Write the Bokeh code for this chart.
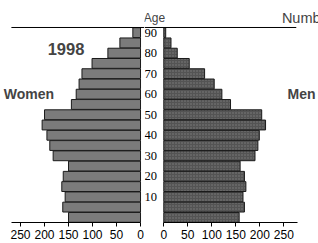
from bokeh.plotting import figure
from bokeh.models import Range1d, FixedTicker, LinearAxis, Label
from bokeh.layouts import row
from bokeh.embed import file_html
from bokeh.resources import INLINE

# ---- data (thousands) ----
ages = [0, 5, 10, 15, 20, 25, 30, 35, 40, 45, 50, 55, 60, 65, 70, 75, 80, 85, 90]
women = [150, 162, 157, 164, 161, 150, 182, 189, 195, 205, 200, 144, 134, 128, 122, 101, 68, 43, 16]
men = [157, 168, 165, 171, 168, 159, 190, 196, 199, 212, 204, 139, 121, 105, 85, 53, 28, 15, 4]
age_ticks = [10, 20, 30, 40, 50, 60, 70, 80, 90]
age_tick_labels = [str(a) for a in age_ticks]
count_ticks = [0, 50, 100, 150, 200, 250]
year_label = "1998"
left_label = "Women"
right_label = "Men"
axis_title = "Age"
value_title = "Number"

FONT = "Liberation Sans, Arial, sans-serif"
Y_RANGE = (-2.5, 105.65)
TOP_RULE_Y = 92.5


def base(fig):
    fig.outline_line_color = None
    fig.background_fill_color = "white"
    fig.border_fill_color = "white"
    fig.grid.visible = False


def count_axis(bounds):
    return LinearAxis(
        ticker=FixedTicker(ticks=count_ticks),
        bounds=bounds,
        axis_line_color="black", axis_line_width=1,
        major_tick_line_color="black", major_tick_out=4, major_tick_in=0,
        minor_tick_line_color=None,
        major_label_standoff=3,
        major_label_text_font=FONT, major_label_text_font_size="12px",
        major_label_text_color="black",
    )


# ---- left panel : women ----
pL = figure(frame_width=144, frame_height=222,
            x_range=Range1d(291.7, -8.3), y_range=Range1d(*Y_RANGE),
            min_border_left=0, min_border_right=0, min_border_top=0, min_border_bottom=21,
            x_axis_location=None, y_axis_location=None,
            output_backend="svg", toolbar_location=None)
base(pL)
pL.hbar(y=ages, left=0, right=women, height=4.8,
        fill_color="#7b7b7b", line_color="#1a1a1a", line_width=1)
pL.add_layout(count_axis((0, 269)), "below")
pL.segment(x0=[269], x1=[-8.3], y0=[TOP_RULE_Y], y1=[TOP_RULE_Y],
           line_color="black", line_width=1)
pL.add_layout(Label(x=155.2, y=81.9, text=year_label, text_font=FONT,
                    text_font_style="bold", text_font_size="16.5px",
                    text_align="center", text_baseline="middle"))
pL.add_layout(Label(x=284.8, y=60.0, text=left_label, text_font=FONT,
                    text_font_style="bold", text_font_size="14px",
                    text_align="left", text_baseline="middle"))

# ---- right panel : men (also carries the age labels in the gap) ----
pR = figure(frame_width=174, frame_height=222,
            x_range=Range1d(-40.2, 322.3), y_range=Range1d(*Y_RANGE),
            min_border_left=0, min_border_right=0, min_border_top=0, min_border_bottom=21,
            x_axis_location=None, y_axis_location=None,
            output_backend="svg", toolbar_location=None)
base(pR)
pR.hbar(y=ages, left=0, right=men, height=4.8,
        fill_color="#545454", line_color="#1a1a1a", line_width=1,
        hatch_pattern="dot", hatch_color="#9a9a9a", hatch_scale=3, hatch_alpha=0.6)
pR.add_layout(count_axis((0, 278)), "below")
pR.segment(x0=[-40.2], x1=[276], y0=[TOP_RULE_Y], y1=[TOP_RULE_Y],
           line_color="black", line_width=1)
pR.text(x=[-27] * len(age_ticks), y=age_ticks, text=age_tick_labels,
        text_font=FONT, text_font_size="12.5px", text_color="black",
        text_align="center", text_baseline="middle")
pR.add_layout(Label(x=-19.4, y=97.0, text=axis_title, text_font=FONT,
                    text_font_size="12px", text_align="center", text_baseline="middle"))
pR.add_layout(Label(x=246, y=97.0, text=value_title, text_font=FONT,
                    text_font_size="14.5px", text_align="left", text_baseline="alphabetic"))
pR.add_layout(Label(x=257.7, y=60.0, text=right_label, text_font=FONT,
                    text_font_style="bold", text_font_size="14px",
                    text_align="left", text_baseline="middle"))

layout = row(pL, pR)

open("out.html", "w").write(file_html(layout, INLINE))
